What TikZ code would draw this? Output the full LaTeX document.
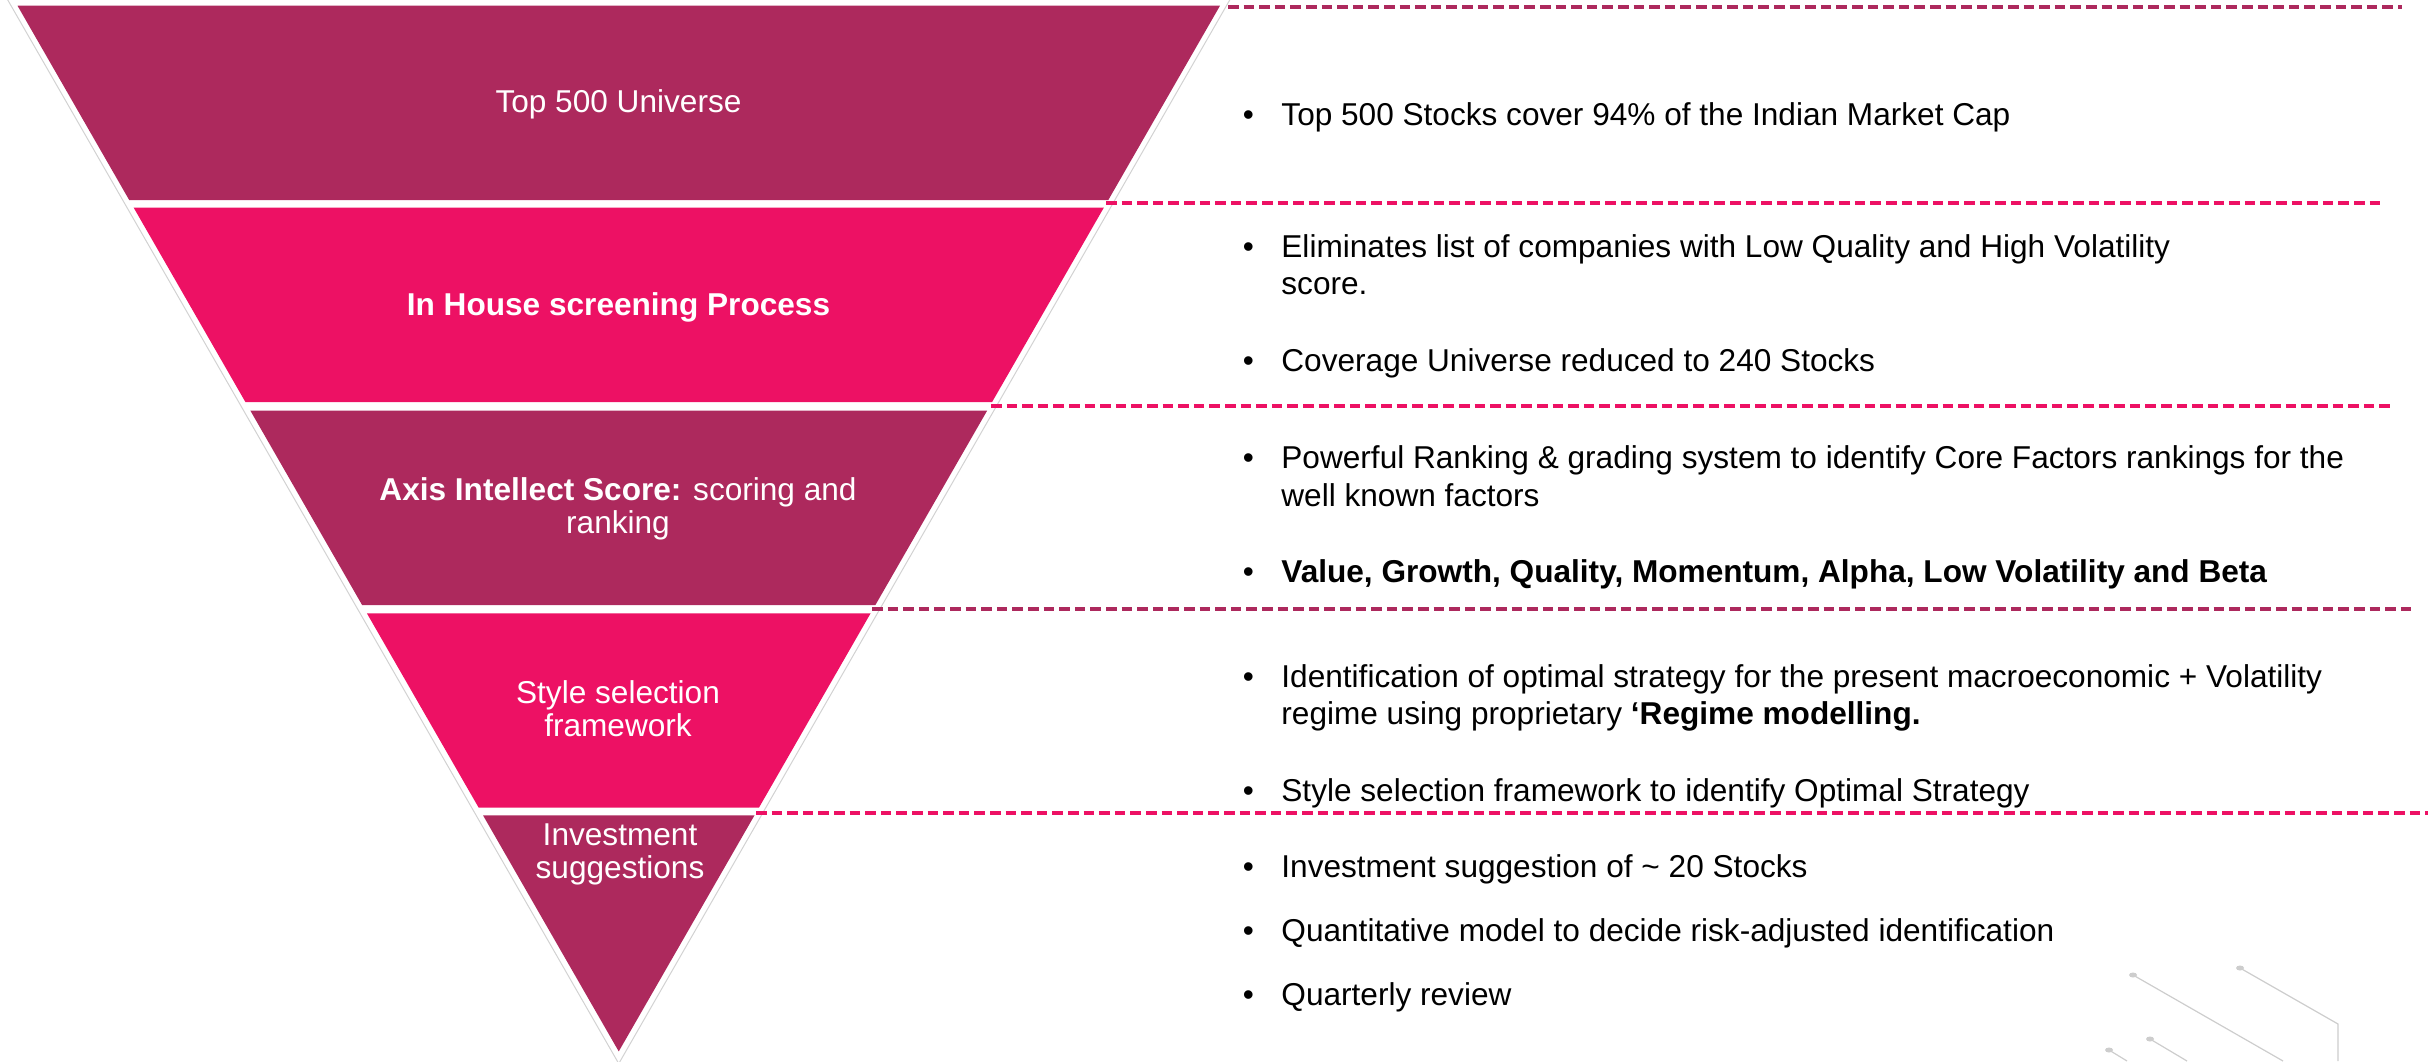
\documentclass[tikz,border=0pt]{standalone}
\usepackage{fontspec}
\setmainfont{Liberation Sans}

\definecolor{funneldark}{RGB}{173,41,93}
\definecolor{funnelpink}{RGB}{237,17,100}
\definecolor{tracegray}{RGB}{205,205,205}

\begin{document}
\begin{tikzpicture}[x=0.5pt, y=-0.5pt]
  \tikzset{bandtext/.style={text=white, inner sep=0pt, anchor=base, font=\fontsize{15.8}{18}\selectfont},
           pointtext/.style={text=black, inner sep=0pt, anchor=base west, font=\fontsize{15.8}{18}\selectfont},
           bulletmark/.style={text=black, inner sep=0pt, anchor=base, font=\fontsize{15.8}{18}\selectfont},
           divider/.style={line width=1.6pt, dash pattern=on 5.3pt off 2.5pt}}
  \useasboundingbox (0,0) rectangle (2428,1061);

  % funnel outline and bands
  \draw[gray!35, line width=0.5pt] (7.2,-1) -- (618.75,1063.6) -- (1230.3,-1);
  \fill[funneldark] (17.5,5.7) -- (1220,5.7) -- (1108.3,200) -- (129.2,200) -- cycle;
  \fill[funnelpink] (133.7,207.7) -- (1103.8,207.7) -- (992.1,402) -- (245.4,402) -- cycle;
  \fill[funneldark] (250.4,410.7) -- (987.1,410.7) -- (875.4,605) -- (362.1,605) -- cycle;
  \fill[funnelpink] (366.9,613.3) -- (870.6,613.3) -- (758.9,807.7) -- (478.7,807.7) -- cycle;
  \fill[funneldark] (483,815.3) -- (754.5,815.3) -- (618.75,1051.4) -- cycle;

  \node[bandtext] (universe) at (618.5,112) {Top 500 Universe};
  \node[bandtext] (screening) at (618.5,315) {\bfseries In House screening Process};
  \node[bandtext] (scoreA) at (618,500) {\textbf{Axis Intellect Score:} scoring and};
  \node[bandtext] (scoreB) at (618,533) {ranking};
  \node[bandtext] (styleA) at (618,703) {Style selection};
  \node[bandtext] (styleB) at (618,736) {framework};
  \node[bandtext] (investA) at (620,845) {Investment};
  \node[bandtext] (investB) at (620,878) {suggestions};

  % dashed dividers
  \coordinate (d1s) at (1228,7);    \coordinate (d1e) at (2402,7);
  \coordinate (d2s) at (1106,203);  \coordinate (d2e) at (2382,203);
  \coordinate (d3s) at (991,406);   \coordinate (d3e) at (2390,406);
  \coordinate (d4s) at (872,609);   \coordinate (d4e) at (2412,609);
  \coordinate (d5s) at (756,813);   \coordinate (d5e) at (2428,813);
  \draw[divider, funneldark] (d1s) -- (d1e);
  \draw[divider, funnelpink] (d2s) -- (d2e);
  \draw[divider, funnelpink] (d3s) -- (d3e);
  \draw[divider, funneldark] (d4s) -- (d4e);
  \draw[divider, funnelpink] (d5s) -- (d5e);

  % bullet points
  \foreach \y in {125,257,371,468,582,687,801,877,941,1005}
    \node[bulletmark] at (1248.5,\y) {•};
  \node[pointtext] (cap) at (1281,125) {Top 500 Stocks cover 94\% of the Indian Market Cap};
  \node[pointtext] (elimA) at (1281,257) {Eliminates list of companies with Low Quality and High Volatility};
  \node[pointtext] (elimB) at (1281,294) {score.};
  \node[pointtext] (coverage) at (1281,371) {Coverage Universe reduced to 240 Stocks};
  \node[pointtext] (rankA) at (1281,468) {Powerful Ranking \& grading system to identify Core Factors rankings for the};
  \node[pointtext] (rankB) at (1281,506) {well known factors};
  \node[pointtext] (factors) at (1281,582) {\bfseries Value, Growth, Quality, Momentum, Alpha, Low Volatility and Beta};
  \node[pointtext] (regimeA) at (1281,687) {Identification of optimal strategy for the present macroeconomic + Volatility};
  \node[pointtext] (regimeB) at (1281,724) {regime using proprietary \textbf{‘Regime modelling.}};
  \node[pointtext] (optimal) at (1281,801) {Style selection framework to identify Optimal Strategy};
  \node[pointtext] (twenty) at (1281,877) {Investment suggestion of \textasciitilde{} 20 Stocks};
  \node[pointtext] (quant) at (1281,941) {Quantitative model to decide risk-adjusted identification};
  \node[pointtext] (review) at (1281,1005) {Quarterly review};

  % circuit traces, bottom right
  \draw[tracegray, line width=0.6pt] (2133,975) -- (2283,1061);
  \draw[tracegray, line width=0.6pt] (2240,968) -- (2338,1024) -- (2338,1061);
  \draw[tracegray, line width=0.6pt] (2150,1039) -- (2187,1061);
  \draw[tracegray, line width=0.6pt] (2109,1050) -- (2127,1061);
  \foreach \p in {(2133,975),(2240,968),(2150,1039),(2109,1050)}
    \fill[tracegray] \p ellipse (4 and 2.5);
\end{tikzpicture}
\end{document}
